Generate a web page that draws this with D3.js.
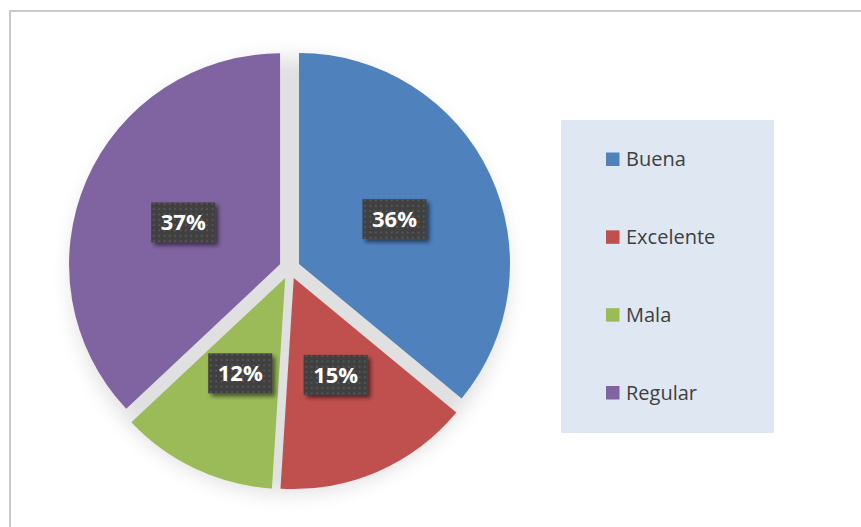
<!DOCTYPE html>
<html>
<head>
<meta charset="utf-8">
<script src="https://cdn.jsdelivr.net/npm/d3@7"></script>
<style>
  html, body { margin: 0; padding: 0; background: #fff; }
  svg { display: block; }
</style>
</head>
<body>
<svg id="chart" width="861" height="527"></svg>
<script>
const categories = ["Buena", "Excelente", "Mala", "Regular"];
const values = [36, 15, 12, 37];
const labels = ["36%", "15%", "12%", "37%"];
const colors = ["#4f81bd", "#c0504d", "#9bbb59", "#8064a2"];

const W = 861, H = 527;
const svg = d3.select("#chart");
const defs = svg.append("defs");

// filters
const blur = defs.append("filter").attr("id", "pieShadow")
  .attr("x", "-30%").attr("y", "-30%").attr("width", "160%").attr("height", "160%");
blur.append("feGaussianBlur").attr("stdDeviation", 10);

const boxShadow = defs.append("filter").attr("id", "boxShadow")
  .attr("x", "-30%").attr("y", "-30%").attr("width", "160%").attr("height", "160%");
boxShadow.append("feGaussianBlur").attr("in", "SourceAlpha").attr("stdDeviation", 2).attr("result", "b");
boxShadow.append("feOffset").attr("in", "b").attr("dx", 3).attr("dy", 3).attr("result", "o");
boxShadow.append("feComponentTransfer").attr("in", "o").attr("result", "o2")
  .append("feFuncA").attr("type", "linear").attr("slope", 0.55);
const m = boxShadow.append("feMerge");
m.append("feMergeNode").attr("in", "o2");
m.append("feMergeNode").attr("in", "SourceGraphic");

const pat = defs.append("pattern").attr("id", "dots")
  .attr("patternUnits", "userSpaceOnUse").attr("width", 5.33).attr("height", 5.33);
pat.append("rect").attr("width", 5.33).attr("height", 5.33).attr("fill", "#3f3f3f");
pat.append("rect").attr("x", 1.6).attr("y", 1.6).attr("width", 2).attr("height", 2).attr("fill", "#575757");

// chart border
svg.append("rect")
  .attr("x", 10).attr("y", 11).attr("width", W + 20).attr("height", H + 20)
  .attr("fill", "#fff").attr("stroke", "#c9c9c9").attr("stroke-width", 2);

// pie geometry
const cx = 289.6, cy = 268.5, r = 211, explode = 10.4, labelFrac = 0.5;

const pie = d3.pie().sort(null).value(d => d)(values);
const arc = d3.arc().innerRadius(0).outerRadius(r);

const g = svg.append("g").attr("transform", `translate(${cx},${cy})`);

// soft shadow behind pie
g.append("circle")
  .attr("cx", 0).attr("cy", 7)
  .attr("r", r + 7)
  .attr("fill", "#e0e0e0")
  .attr("filter", "url(#pieShadow)");

function offset(d, dist) {
  const a = (d.startAngle + d.endAngle) / 2;
  return [Math.sin(a) * dist, -Math.cos(a) * dist];
}

g.selectAll("path.slice")
  .data(pie)
  .join("path")
  .attr("class", "slice")
  .attr("d", arc)
  .attr("fill", (d, i) => colors[i])
  .attr("transform", d => {
    const [ox, oy] = offset(d, explode);
    return `translate(${ox},${oy})`;
  });

// data labels
const lbl = g.selectAll("g.lbl")
  .data(pie)
  .join("g")
  .attr("class", "lbl")
  .attr("transform", d => {
    const [ox, oy] = offset(d, explode + r * labelFrac);
    return `translate(${ox},${oy})`;
  });

const bw = 64, bh = 40;
lbl.append("rect")
  .attr("x", -bw / 2).attr("y", -bh / 2)
  .attr("width", bw).attr("height", bh)
  .attr("fill", "url(#dots)")
  .attr("filter", "url(#boxShadow)");

lbl.append("text")
  .attr("text-anchor", "middle")
  .attr("dy", "0.36em")
  .attr("font-family", "'Open Sans', sans-serif")
  .attr("font-weight", "bold")
  .attr("font-size", 22)
  .attr("fill", "#ffffff")
  .text((d, i) => labels[i]);

// legend
const lx = 561, ly = 120, lw = 213, lh = 313;
svg.append("rect")
  .attr("x", lx).attr("y", ly).attr("width", lw).attr("height", lh)
  .attr("fill", "#dfe8f2");

const rowY = d3.scalePoint().domain(categories).range([159, 392.5]);
const leg = svg.selectAll("g.leg")
  .data(categories)
  .join("g")
  .attr("class", "leg")
  .attr("transform", d => `translate(606,${rowY(d)})`);

leg.append("rect")
  .attr("x", 0).attr("y", -6.5).attr("width", 13.5).attr("height", 13.5)
  .attr("fill", (d, i) => colors[i]);

leg.append("text")
  .attr("x", 20).attr("dy", "0.36em")
  .attr("font-family", "'Open Sans', sans-serif")
  .attr("font-size", 20)
  .attr("fill", "#404040")
  .text(d => d);
</script>
</body>
</html>
